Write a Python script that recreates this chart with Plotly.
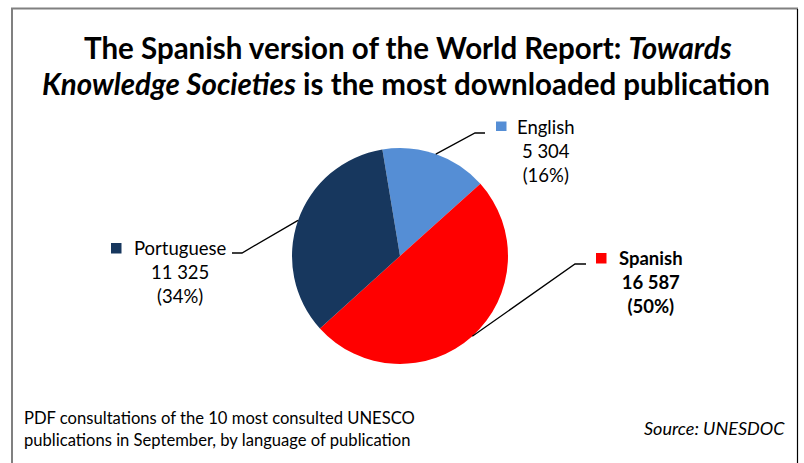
import math
import plotly.graph_objects as go

# ---- data ----
languages = ["English", "Spanish", "Portuguese"]
downloads = [5304, 16587, 11325]
colors = ["#558ED5", "#FF0000", "#17375E"]
title_line1 = "The Spanish version of the World Report: <i>Towards</i>"
title_line2 = "<i>Knowledge Societies</i> is the most downloaded publication"
note_text = "PDF consultations of the 10 most consulted UNESCO<br>publications in September, by language of publication"
source_text = "<i>Source: UNESDOC</i>"

# ---- layout constants (pixels) ----
W, H = 804, 463
CX, CY, R = 400, 256, 108
ROTATION = -9.4
FONT = "Lato"

# label layout: text center (x,y of middle line), elbow point, elbow end, marker box
label_layout = {
    "English":    dict(tx=546, ty=151, elbow=(475, 133), end=(485, 133), box=(496, 121.5, 506.5, 131)),
    "Spanish":    dict(tx=651, ty=282, elbow=(575, 264), end=(586, 264), box=(596, 253, 606.5, 263.5)),
    "Portuguese": dict(tx=180, ty=272, elbow=(242, 253), end=(232, 253), box=(111, 243, 121.5, 253.5)),
}


def px(x):
    return x / W


def py(y):
    return 1 - y / H


fig = go.Figure()
fig.add_trace(go.Pie(
    labels=languages,
    values=downloads,
    marker=dict(colors=colors, line=dict(width=0)),
    sort=False,
    direction="clockwise",
    rotation=ROTATION,
    textinfo="none",
    hoverinfo="label+value+percent",
    showlegend=False,
    domain=dict(x=[px(CX - R), px(CX + R)], y=[py(CY + R), py(CY - R)]),
))

total = sum(downloads)
shapes = []
annotations = []
cum = 0.0
for lang, val, col in zip(languages, downloads, colors):
    frac = val / total
    mid = math.radians(ROTATION + 360 * (cum + frac / 2))
    cum += frac
    sx = CX + R * math.sin(mid)
    sy = CY - R * math.cos(mid)
    lay = label_layout[lang]
    ex, ey = lay["elbow"]
    fx, fy = lay["end"]
    shapes.append(dict(type="path", xref="paper", yref="paper",
                       path=f"M {px(sx)},{py(sy)} L {px(ex)},{py(ey)} L {px(fx)},{py(fy)}",
                       line=dict(color="black", width=1.3)))
    bx0, by0, bx1, by1 = lay["box"]
    shapes.append(dict(type="rect", xref="paper", yref="paper",
                       x0=px(bx0), x1=px(bx1), y0=py(by1), y1=py(by0),
                       fillcolor=col, line=dict(width=0)))
    pct = round(frac * 100)
    valtxt = f"{val:,}".replace(",", " ")
    txt = f"{lang}<br>{valtxt}<br>({pct}%)"
    if lang == "Spanish":
        txt = f"<b>{txt}</b>"
    annotations.append(dict(xref="paper", yref="paper", x=px(lay["tx"]), y=py(lay["ty"]),
                            text=txt, showarrow=False, align="center",
                            xanchor="center", yanchor="middle",
                            font=dict(family=FONT, size=18.5, color="#000000")))

# frame
shapes.append(dict(type="line", xref="paper", yref="paper", x0=px(11), x1=px(798), y0=py(8.5), y1=py(8.5),
                   line=dict(color="#808080", width=2)))
shapes.append(dict(type="line", xref="paper", yref="paper", x0=px(12), x1=px(12), y0=py(8), y1=py(470),
                   line=dict(color="#808080", width=2)))
shapes.append(dict(type="line", xref="paper", yref="paper", x0=px(797.5), x1=px(797.5), y0=py(9), y1=py(470),
                   line=dict(color="#000000", width=1.2)))

# title
annotations.append(dict(xref="paper", yref="paper", x=px(408), y=py(47), text=f"<b>{title_line1}</b>",
                        showarrow=False, xanchor="center", yanchor="middle",
                        font=dict(family=FONT, size=29.5, color="black")))
annotations.append(dict(xref="paper", yref="paper", x=px(406), y=py(83), text=f"<b>{title_line2}</b>",
                        showarrow=False, xanchor="center", yanchor="middle",
                        font=dict(family=FONT, size=29.5, color="black")))
# footnote & source
annotations.append(dict(xref="paper", yref="paper", x=px(22), y=py(429), text=note_text,
                        showarrow=False, xanchor="left", yanchor="middle", align="left",
                        font=dict(family=FONT, size=16.6, color="black")))
annotations.append(dict(xref="paper", yref="paper", x=px(787), y=py(428), text=source_text,
                        showarrow=False, xanchor="right", yanchor="middle",
                        font=dict(family=FONT, size=18, color="black")))

fig.update_layout(
    width=W, height=H,
    margin=dict(l=0, r=0, t=0, b=0),
    paper_bgcolor="white", plot_bgcolor="white",
    shapes=shapes, annotations=annotations,
    showlegend=False,
)

fig.write_html("out.html")
